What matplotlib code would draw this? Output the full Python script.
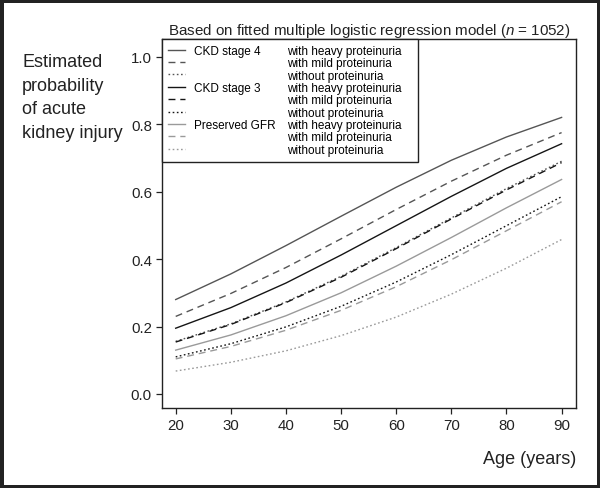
import matplotlib
matplotlib.use("Agg")
import matplotlib.pyplot as plt
from matplotlib.lines import Line2D

plt.rcParams["font.family"] = ["Liberation Sans", "DejaVu Sans"]
plt.rcParams["mathtext.fontset"] = "custom"
plt.rcParams["mathtext.rm"] = "Liberation Sans"
plt.rcParams["mathtext.it"] = "Liberation Sans:italic"

# values at each decade of age
age = [20, 30, 40, 50, 60, 70, 80, 90]

ckd4_heavy   = [0.280, 0.356, 0.440, 0.527, 0.613, 0.693, 0.762, 0.820]
ckd4_mild    = [0.230, 0.298, 0.375, 0.460, 0.547, 0.631, 0.708, 0.775]
ckd4_without = [0.156, 0.208, 0.273, 0.349, 0.434, 0.522, 0.609, 0.690]
ckd3_heavy   = [0.195, 0.256, 0.329, 0.412, 0.499, 0.586, 0.669, 0.742]
ckd3_mild    = [0.154, 0.206, 0.271, 0.346, 0.431, 0.519, 0.605, 0.686]
ckd3_without = [0.110, 0.149, 0.199, 0.260, 0.332, 0.413, 0.499, 0.585]
pres_heavy   = [0.130, 0.175, 0.232, 0.300, 0.379, 0.464, 0.552, 0.636]
pres_mild    = [0.104, 0.141, 0.189, 0.248, 0.318, 0.398, 0.484, 0.570]
pres_without = [0.068, 0.094, 0.128, 0.173, 0.228, 0.296, 0.373, 0.458]

groups = ["CKD stage 4", "CKD stage 3", "Preserved GFR"]
levels = ["with heavy proteinuria", "with mild proteinuria", "without proteinuria"]
yticks = [0.0, 0.2, 0.4, 0.6, 0.8, 1.0]

series = [ckd4_heavy, ckd4_mild, ckd4_without,
          ckd3_heavy, ckd3_mild, ckd3_without,
          pres_heavy, pres_mild, pres_without]
colors = {0: "#555555", 1: "#151515", 2: "#9a9a9a"}
styles = ["-", (0, (5, 3.5)), (0, (1.2, 1.8))]

fig = plt.figure(figsize=(6, 4.89), dpi=100)
fig.patch.set_edgecolor("#222222")
fig.patch.set_linewidth(5)
ax = fig.add_axes([0.2695, 0.1626, 0.6913, 0.7556])

lines = []
for i, vals in enumerate(series):
    g, k = divmod(i, 3)
    ln, = ax.plot(age, vals, color=colors[g], ls=styles[k], lw=1.0)
    lines.append(ln)

ax.set_xlim(17.46, 92.7)
ax.set_ylim(-0.043, 1.0525)
ax.set_xticks(age)
ax.set_yticks(yticks)
ax.set_yticklabels([f"{v:.1f}" for v in yticks])
ax.tick_params(direction="out", length=4, width=0.9, labelsize=10.8,
               colors="#222222", pad=3)
for s in ax.spines.values():
    s.set_linewidth(1.0)
    s.set_color("#222222")

# two-column legend: line + stage name, then the proteinuria level
blank = [Line2D([], [], ls="none") for _ in range(9)]
labels1 = []
for g in groups:
    labels1 += [g, "", ""]
labels2 = [lv + "   " for lv in levels] * 3
leg = ax.legend(lines + blank, labels1 + labels2, ncol=2, loc="upper left",
                bbox_to_anchor=(0, 1), borderaxespad=0, fontsize=8.5,
                handlelength=1.45, handletextpad=0.82, columnspacing=-1.3,
                labelspacing=0.03, borderpad=0.5, fancybox=False,
                framealpha=1, edgecolor="#222222")
leg.get_frame().set_linewidth(1.0)

fig.text(0.615, 0.936, r"Based on fitted multiple logistic regression model ($\mathit{n}$ = 1052)",
         ha="center", va="center", fontsize=10.9, color="#222222")
fig.text(0.037, 0.889, "Estimated\nprobability\nof acute\nkidney injury",
         ha="left", va="top", fontsize=13, linespacing=1.5, color="#222222")
fig.text(0.961, 0.061, "Age (years)", ha="right", va="center",
         fontsize=13, color="#222222")

fig.savefig("out.png", dpi=100)
